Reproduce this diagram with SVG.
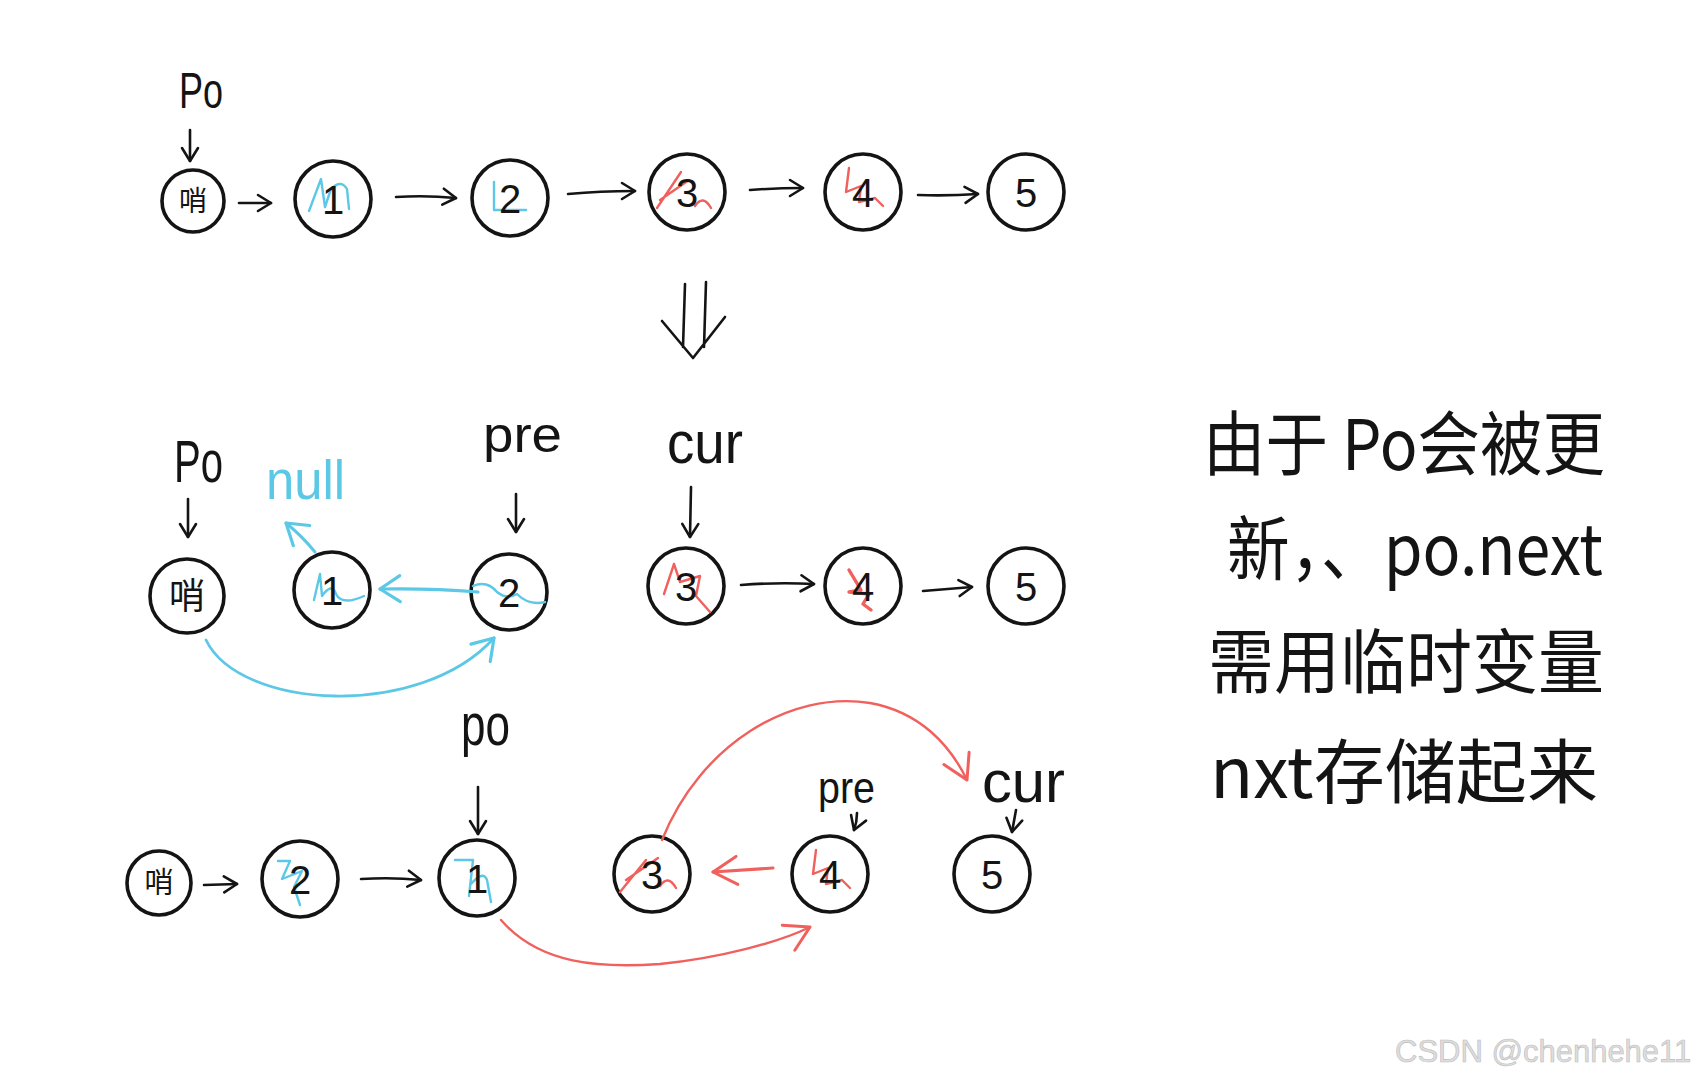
<svg xmlns="http://www.w3.org/2000/svg" width="1702" height="1080" viewBox="0 0 1702 1080">
<style>
.node circle{fill:#fff;stroke:#141414;stroke-width:3.6}
.num{font-family:"Liberation Sans","DejaVu Sans",sans-serif;font-size:40px;fill:#141414;text-anchor:middle}
.han{font-family:"Noto Sans CJK SC","Noto Sans CJK JP",sans-serif;fill:#141414;text-anchor:middle}
.lbl{font-family:"Liberation Sans","DejaVu Sans",sans-serif;fill:#141414}
.bl{fill:none;stroke:#5cc8e6;stroke-width:2.4;stroke-linecap:round;stroke-linejoin:round}
.rd{fill:none;stroke:#f0605c;stroke-width:2.4;stroke-linecap:round;stroke-linejoin:round}
.k{fill:none;stroke:#141414;stroke-width:2.6;stroke-linecap:round;stroke-linejoin:round}
.note{font-family:"Noto Sans CJK SC","Noto Sans CJK JP",sans-serif;font-size:70px;fill:#141414}
</style>
<defs>
<marker id="ak" markerUnits="userSpaceOnUse" markerWidth="24" markerHeight="24" refX="17" refY="12" orient="auto"><path d="M4,4 L17,12 L4,20" fill="none" stroke="#141414" stroke-width="2.6" stroke-linecap="round" stroke-linejoin="round"/></marker>
<marker id="ab" markerUnits="userSpaceOnUse" markerWidth="34" markerHeight="34" refX="26" refY="17" orient="auto"><path d="M6,4 L26,17 L6,30" fill="none" stroke="#5cc8e6" stroke-width="3.2" stroke-linecap="round" stroke-linejoin="round"/></marker>
<marker id="ar" markerUnits="userSpaceOnUse" markerWidth="40" markerHeight="40" refX="30" refY="20" orient="auto"><path d="M6,6 L30,20 L6,34" fill="none" stroke="#f0605c" stroke-width="3" stroke-linecap="round" stroke-linejoin="round"/></marker>
</defs>
<rect width="1702" height="1080" fill="#fff"/>

<!-- Row 1 -->
<g id="r1-head" class="node" transform="translate(193,201)"><circle r="31"/><text class="han" y="10" font-size="28">哨</text></g>
<g id="r1-n1" class="node" transform="translate(333,199)"><circle r="38"/><path class="bl" d="M-24,12 L-12,-20 L-8,8 L-2,-10 Q8,-20 14,-10 L16,10"/><text class="num" y="15">1</text></g>
<g id="r1-n2" class="node" transform="translate(510,198)"><circle r="38"/><path class="bl" d="M-16,-16 L-16,12 L16,12"/><text class="num" y="15">2</text></g>
<g id="r1-n3" class="node" transform="translate(687,192)"><circle r="38"/><path class="rd" d="M-30,16 L-6,-20 M-27,8 L2,-12 M8,14 Q16,2 24,16"/><text class="num" y="15">3</text></g>
<g id="r1-n4" class="node" transform="translate(863,192)"><circle r="38"/><path class="rd" d="M-14,-24 L-17,0 L-2,-6 L-4,10 L12,6 L20,14"/><text class="num" y="15">4</text></g>
<g id="r1-n5" class="node" transform="translate(1026,192)"><circle r="38"/><text class="num" y="15">5</text></g>
<g id="r1-po"><text class="lbl" x="179" y="108" font-size="50" textLength="44" lengthAdjust="spacingAndGlyphs">Po</text></g>

<!-- Row 2 -->
<g id="r2-head" class="node" transform="translate(187,596)"><circle r="37"/><text class="han" y="13" font-size="36">哨</text></g>
<g id="r2-n1" class="node" transform="translate(332,590)"><circle r="38"/><path class="bl" d="M-18,10 L-12,-16 L-10,6 Q0,-8 4,4 Q10,16 32,6"/><text class="num" y="15">1</text></g>
<g id="r2-n2" class="node" transform="translate(509,592)"><circle r="38"/><path class="bl" d="M-36,-6 Q-22,-12 -12,0 Q-2,8 8,2 Q20,14 36,10"/><text class="num" y="15">2</text></g>
<g id="r2-n3" class="node" transform="translate(686,586)"><circle r="38"/><path class="rd" d="M-22,8 L-12,-22 L-6,-4 L14,-10 L10,10 L24,26"/><text class="num" y="15">3</text></g>
<g id="r2-n4" class="node" transform="translate(863,586)"><circle r="38"/><path class="rd" style="stroke-width:3.4" d="M-14,-16 L-2,4 L-14,6 L6,8 L0,18 L8,24"/><text class="num" y="15">4</text></g>
<g id="r2-n5" class="node" transform="translate(1026,586)"><circle r="38"/><text class="num" y="15">5</text></g>
<g id="r2-po"><text class="lbl" x="174" y="482" font-size="60" textLength="49" lengthAdjust="spacingAndGlyphs">Po</text></g>
<g id="r2-null"><text class="lbl" x="266" y="499" font-size="56" textLength="79" lengthAdjust="spacingAndGlyphs" style="fill:#5cc8e6">null</text></g>
<g id="r2-pre"><text class="lbl" x="483" y="452" font-size="50" textLength="79" lengthAdjust="spacingAndGlyphs">pre</text></g>
<g id="r2-cur"><text class="lbl" x="667" y="463" font-size="60" textLength="76" lengthAdjust="spacingAndGlyphs">cur</text></g>

<!-- Row 3 -->
<g id="r3-head" class="node" transform="translate(159,883)"><circle r="32"/><text class="han" y="10" font-size="29">哨</text></g>
<g id="r3-n2" class="node" transform="translate(300,879)"><circle r="38"/><path class="bl" d="M-22,-18 L-10,-18 L-18,0 L2,-8 L-6,8 L0,26"/><text class="num" y="15">2</text></g>
<g id="r3-n1" class="node" transform="translate(477,878)"><circle r="38"/><path class="bl" d="M-22,-18 L-4,-18 L-8,18 M-6,6 Q6,-8 10,2 L14,24"/><text class="num" y="15">1</text></g>
<g id="r3-n3" class="node" transform="translate(652,874)"><circle r="38"/><path class="rd" d="M-32,18 L-6,-14 M-26,6 L6,-16 M8,12 Q16,0 24,14"/><text class="num" y="15">3</text></g>
<g id="r3-n4" class="node" transform="translate(830,874)"><circle r="38"/><path class="rd" d="M-14,-24 L-17,0 L-2,-6 L-4,10 L12,6 L20,14"/><text class="num" y="15">4</text></g>
<g id="r3-n5" class="node" transform="translate(992,874)"><circle r="38"/><text class="num" y="15">5</text></g>
<g id="r3-po"><text class="lbl" x="461" y="745" font-size="60" textLength="49" lengthAdjust="spacingAndGlyphs">po</text></g>
<g id="r3-pre"><text class="lbl" x="818" y="803" font-size="44" textLength="57" lengthAdjust="spacingAndGlyphs">pre</text></g>
<g id="r3-cur"><text class="lbl" x="982" y="802" font-size="60" textLength="83" lengthAdjust="spacingAndGlyphs">cur</text></g>

<!-- Connectors -->
<g id="connectors">
<path class="k" d="M239,203 L271,203" marker-end="url(#ak)"/>
<path class="k" d="M396,197 Q426,195 456,198" marker-end="url(#ak)"/>
<path class="k" d="M568,194 Q600,191 635,191" marker-end="url(#ak)"/>
<path class="k" d="M750,190 Q776,188 803,188" marker-end="url(#ak)"/>
<path class="k" d="M918,195 Q948,196 978,194" marker-end="url(#ak)"/>
<path class="k" d="M190,130 L190,161" marker-end="url(#ak)"/>
<path class="k" d="M685,284 L683,347 M706,282 L704,347 M662,321 L693,358 L725,317"/>

<path class="k" d="M188,499 L188,537" marker-end="url(#ak)"/>
<path class="k" d="M516,494 L516,532" marker-end="url(#ak)"/>
<path class="k" d="M691,487 L690,537" marker-end="url(#ak)"/>
<path class="k" d="M741,585 Q778,582 814,584" marker-end="url(#ak)"/>
<path class="k" d="M923,591 L972,587" marker-end="url(#ak)"/>
<path class="bl" style="stroke-width:3" d="M315,552 Q302,536 286,523" marker-end="url(#ab)"/>
<path class="bl" style="stroke-width:3.2" d="M478,592 Q430,588 380,589" marker-end="url(#ab)"/>
<path class="bl" style="stroke-width:2.8" d="M206,640 C240,710 420,720 494,638" marker-end="url(#ab)"/>

<path class="k" d="M204,885 L237,884" marker-end="url(#ak)"/>
<path class="k" d="M361,879 Q392,877 421,880" marker-end="url(#ak)"/>
<path class="k" d="M478,787 L478,834" marker-end="url(#ak)"/>
<path class="k" d="M857,813 Q857,822 854,830" marker-end="url(#ak)"/>
<path class="k" d="M1016,810 L1012,832" marker-end="url(#ak)"/>
<path class="rd" style="stroke-width:3.2" d="M773,868 L713,872" marker-end="url(#ar)"/>
<path class="rd" d="M662,840 C700,745 790,690 870,703 C920,712 950,745 967,780" marker-end="url(#ar)"/>
<path class="rd" d="M501,920 C540,965 600,968 660,964 C720,958 780,942 810,927" marker-end="url(#ar)"/>
</g>

<!-- Note text -->
<g id="note">
<text class="note" x="1203" y="470" textLength="402" lengthAdjust="spacingAndGlyphs">由于 Po会被更</text>
<text class="note" x="1227" y="575" textLength="376" lengthAdjust="spacingAndGlyphs">新，、po.next</text>
<text class="note" x="1208" y="688" textLength="396" lengthAdjust="spacingAndGlyphs">需用临时变量</text>
<text class="note" x="1210" y="798" textLength="388" lengthAdjust="spacingAndGlyphs">nxt存储起来</text>
</g>

<text x="1395" y="1062" font-family="Liberation Sans, Arial, sans-serif" font-size="31" fill="#dedede" stroke="#bcbcbc" stroke-width="0.6">CSDN @chenhehe11</text>
</svg>
